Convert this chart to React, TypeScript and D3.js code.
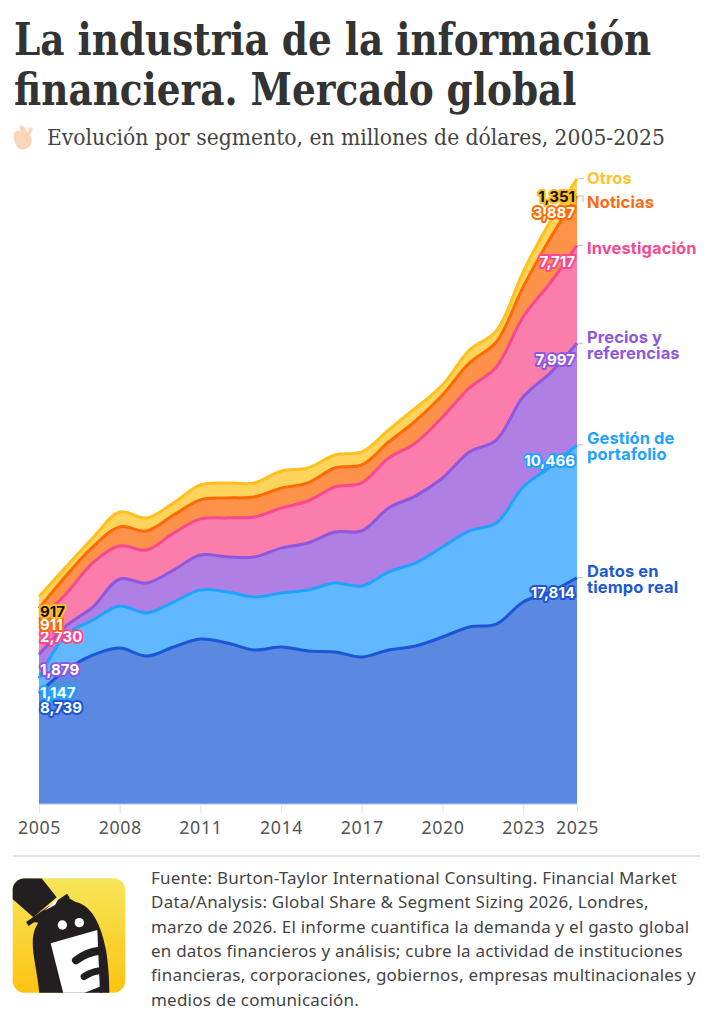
import React, { useRef, useEffect } from "react";
import * as d3 from "d3";

// values, millions of dollars
const years = [2005, 2006, 2007, 2008, 2009, 2010, 2011, 2012, 2013, 2014, 2015, 2016, 2017, 2018, 2019, 2020, 2021, 2022, 2023, 2024, 2025];
const datos = [8739, 10550, 11730, 12280, 11650, 12360, 12990, 12680, 12130, 12360, 12050, 11970, 11580, 12130, 12440, 13150, 13940, 14170, 15910, 16690, 17814];
const gestion = [1147, 2760, 2760, 3310, 3390, 3540, 3860, 4020, 4170, 4250, 4800, 5430, 5590, 6140, 6540, 7090, 7560, 7950, 9060, 9840, 10466];
const precios = [1879, 700, 1020, 2130, 2360, 2520, 2760, 2760, 3150, 3540, 3700, 4020, 4330, 5040, 5280, 5430, 6220, 6540, 7090, 7400, 7997];
const investigacion = [2730, 2520, 3470, 2600, 2600, 2910, 2840, 3070, 3150, 3150, 3310, 3540, 3780, 3940, 4170, 4800, 5040, 5750, 6300, 7090, 7717];
const noticias = [911, 1420, 1260, 1500, 1500, 1420, 1500, 1570, 1570, 1570, 1420, 1500, 1420, 1260, 1730, 1730, 1970, 1970, 2360, 3500, 3887];
const otros = [917, 710, 710, 1180, 1020, 950, 1180, 1180, 1100, 1340, 1180, 1020, 1020, 950, 1020, 790, 1020, 870, 1180, 1340, 1351];

const tickYears = [2005, 2008, 2011, 2014, 2017, 2020, 2023, 2025];
const keys = ["datos", "gestion", "precios", "investigacion", "noticias", "otros"];
const seriesValues = [datos, gestion, precios, investigacion, noticias, otros];
const seriesNames = [["Datos en", "tiempo real"], ["Gestión de", "portafolio"], ["Precios y", "referencias"], ["Investigación"], ["Noticias"], ["Otros"]];

const lineColors = ["#1a56d6", "#1fa3ff", "#8e57e0", "#f9488f", "#ff6a00", "#ffbf1c"];
const fillColors = ["#5b88e0", "#62b8ff", "#b07fe3", "#fa7dab", "#ff924a", "#ffd45c"];
const textColors = ["#1e5ad0", "#22a2ff", "#8e57e0", "#f54a8c", "#ff6a13", "#ffc42e"];
const valueColors = ["#fff", "#fff", "#fff", "#fff", "#fff", "#111"];

// hand placed so the labels sit as in the original
const startLabelY = [713, 698, 675, 642, 630, 617];
const endLabelY = [598, 466, 365, 267, 218, 202];
const nameY = [577, 444, 343, 254, 208, 184];

const sourceLines = [
  "Fuente: Burton-Taylor International Consulting. Financial Market",
  "Data/Analysis: Global Share & Segment Sizing 2026, Londres,",
  "marzo de 2026. El informe cuantifica la demanda y el gasto global",
  "en datos financieros y análisis; cubre la actividad de instituciones",
  "financieras, corporaciones, gobiernos, empresas multinacionales y",
  "medios de comunicación.",
];

const SANS = "'Noto Sans', sans-serif";
const BOLD = "Inter, 'Noto Sans', sans-serif";
const SERIF = "'DejaVu Serif', serif";

export default function App() {
  const ref = useRef<SVGSVGElement>(null);

  useEffect(() => {
    if (!ref.current) return;
    document.body.style.margin = "0";
    const svg = d3.select(ref.current);
    svg.selectAll("*").remove();

    const x = d3.scaleLinear().domain([2005, 2025]).range([39, 577]);
    const y = d3.scaleLinear().domain([0, 50000]).range([804, 169]);

    const rows = years.map((year, i) => {
      const row: Record<string, number> = { year };
      keys.forEach((k, j) => (row[k] = seriesValues[j][i]));
      return row;
    });
    const stacked = d3.stack<Record<string, number>>().keys(keys)(rows);

    const curve = d3.curveCatmullRom.alpha(0.5);
    const area = d3.area<d3.SeriesPoint<Record<string, number>>>()
      .x(d => x(d.data.year))
      .y0(d => y(d[0]))
      .y1(d => y(d[1]))
      .curve(curve);
    const line = d3.line<d3.SeriesPoint<Record<string, number>>>()
      .x(d => x(d.data.year))
      .y(d => y(d[1]))
      .curve(curve);

    // title, squeezed a bit since the original face is narrower
    [["La industria de la información", 55], ["financiera. Mercado global", 105]].forEach(([t, py]) => {
      svg.append("text")
        .attr("transform", `translate(14,${py}) scale(0.945,1)`)
        .attr("font-family", SERIF).attr("font-weight", 700).attr("font-size", 44)
        .attr("font-stretch", "condensed")
        .attr("fill", "#333")
        .text(t as string);
    });
    svg.append("text")
      .attr("transform", "translate(47,145) scale(1.028,1)")
      .attr("font-family", SERIF).attr("font-size", 22)
      .attr("font-stretch", "condensed")
      .attr("fill", "#444")
      .text("Evolución por segmento, en millones de dólares, 2005-2025");

    // crossed fingers glyph
    svg.append("path")
      .attr("transform", "translate(-4,-10) scale(0.52,0.36)")
      .attr("fill", "#fbd5b8")
      .attr("d", "M36 420 C30 400 40 385 46 392 L50 400 L45 382 C44 376 52 374 55 381 L60 395 L64 385 C66 380 72 382 70 388 L65 405 C72 415 70 440 52 443 C42 444 38 432 36 420 Z");

    // areas, back to front
    stacked.forEach((s, i) => {
      svg.append("path").datum(s).attr("d", area as any).attr("fill", fillColors[i]);
    });
    stacked.forEach((s, i) => {
      svg.append("path").datum(s).attr("d", line as any)
        .attr("fill", "none").attr("stroke", lineColors[i]).attr("stroke-width", 3);
    });

    svg.append("line").attr("x1", 39).attr("x2", 577).attr("y1", 804).attr("y2", 804)
      .attr("stroke", "#a9c3f5").attr("stroke-width", 1);

    // x axis
    const axis = d3.axisBottom(x).tickValues(tickYears).tickFormat(d3.format("d") as any).tickSize(9).tickSizeOuter(0);
    const axisG = svg.append("g").attr("transform", "translate(0,804)").call(axis as any);
    axisG.select(".domain").remove();
    axisG.selectAll("line").attr("stroke", "#e3e3e3");
    axisG.selectAll("text")
      .attr("y", 30).attr("dy", 0)
      .attr("font-family", SANS).attr("font-size", 17.8).attr("letter-spacing", "0.6").attr("fill", "#555");

    // value labels at both ends
    const valueLabel = (px: number, py: number, anchor: string, i: number, v: number) => {
      svg.append("text")
        .attr("x", px).attr("y", py).attr("text-anchor", anchor)
        .attr("font-family", BOLD).attr("font-weight", 700).attr("font-size", 15)
        .attr("fill", valueColors[i])
        .attr("stroke", lineColors[i]).attr("stroke-width", 4).attr("stroke-linejoin", "round")
        .attr("paint-order", "stroke")
        .text(d3.format(",")(v));
    };
    keys.forEach((_, i) => {
      valueLabel(40, startLabelY[i], "start", i, seriesValues[i][0]);
      valueLabel(575, endLabelY[i], "end", i, seriesValues[i][years.length - 1]);
    });

    // series names with small leader ticks
    keys.forEach((_, i) => {
      const top = stacked[i][years.length - 1][1];
      svg.append("path")
        .attr("d", `M578,${y(top)}H583${i >= 4 ? `V${nameY[i] - 6}` : ""}`)
        .attr("fill", "none").attr("stroke", "#bbb").attr("stroke-width", 1);
      seriesNames[i].forEach((t, k) => {
        svg.append("text")
          .attr("x", 587).attr("y", nameY[i] + k * 16)
          .attr("font-family", BOLD).attr("font-weight", 700).attr("font-size", 16.5)
          .attr("letter-spacing", "0.1")
          .attr("fill", textColors[i])
          .text(t);
      });
    });

    // footer
    svg.append("line").attr("x1", 13).attr("x2", 700).attr("y1", 856).attr("y2", 856)
      .attr("stroke", "#ddd").attr("stroke-width", 1.5);
    sourceLines.forEach((t, i) => {
      svg.append("text")
        .attr("x", 151).attr("y", 884 + i * 24.3)
        .attr("font-family", SANS).attr("font-size", 17).attr("letter-spacing", "0.22").attr("fill", "#444")
        .text(t);
    });

    // logo, drawn in the coordinates of a 3x crop
    const defs = svg.append("defs");
    const grad = defs.append("linearGradient").attr("id", "logoGrad").attr("x1", 0).attr("y1", 0).attr("x2", 0).attr("y2", 1);
    grad.append("stop").attr("offset", 0).attr("stop-color", "#f7e65a");
    grad.append("stop").attr("offset", 1).attr("stop-color", "#fdc311");
    const clip = defs.append("clipPath").attr("id", "logoClip");
    clip.append("rect").attr("x", 38).attr("y", 295).attr("width", 338).attr("height", 343).attr("rx", 36);

    const logo = svg.append("g").attr("transform", "translate(0,780) scale(0.3333)");
    logo.append("rect").attr("x", 38).attr("y", 295).attr("width", 338).attr("height", 343).attr("rx", 36).attr("fill", "url(#logoGrad)");
    const inner = logo.append("g").attr("clip-path", "url(#logoClip)");
    inner.append("path").attr("d", "M30 295 H125 L170 352 L100 412 L30 350 Z").attr("fill", "#231f20");
    inner.append("path").attr("d", "M82 432 L205 347").attr("stroke", "#231f20").attr("stroke-width", 14).attr("fill", "none");
    inner.append("path").attr("d", "M90 425 L200 350 L230 368 L130 430 Z").attr("fill", "#231f20");
    inner.append("path").attr("d", "M118 640 C112 570 92 510 100 465 C108 420 160 365 215 365 C275 365 305 440 318 510 C325 550 328 600 328 640 Z").attr("fill", "#231f20");
    inner.append("path").attr("d", "M133 392 L178 352 L165 375 Z").attr("fill", "#fff");
    inner.append("path").attr("d", "M152 490 L292 450 L300 640 L190 640 Z").attr("fill", "#fff");
    inner.append("path").attr("d", "M228 541 Q262 515 300 512").attr("stroke", "#231f20").attr("stroke-width", 24).attr("stroke-linecap", "round").attr("fill", "none");
    inner.append("path").attr("d", "M252 590 Q275 575 300 572").attr("stroke", "#231f20").attr("stroke-width", 20).attr("stroke-linecap", "round").attr("fill", "none");
    inner.append("path").attr("d", "M250 640 L305 618 V640 Z").attr("fill", "#231f20");
    inner.append("circle").attr("cx", 187).attr("cy", 435).attr("r", 14).attr("fill", "#fff");
    inner.append("circle").attr("cx", 238).attr("cy", 428).attr("r", 14).attr("fill", "#fff");
  }, []);

  return <svg ref={ref} width={713} height={1024} style={{ position: "absolute", top: 0, left: 0, display: "block" }} />;
}
